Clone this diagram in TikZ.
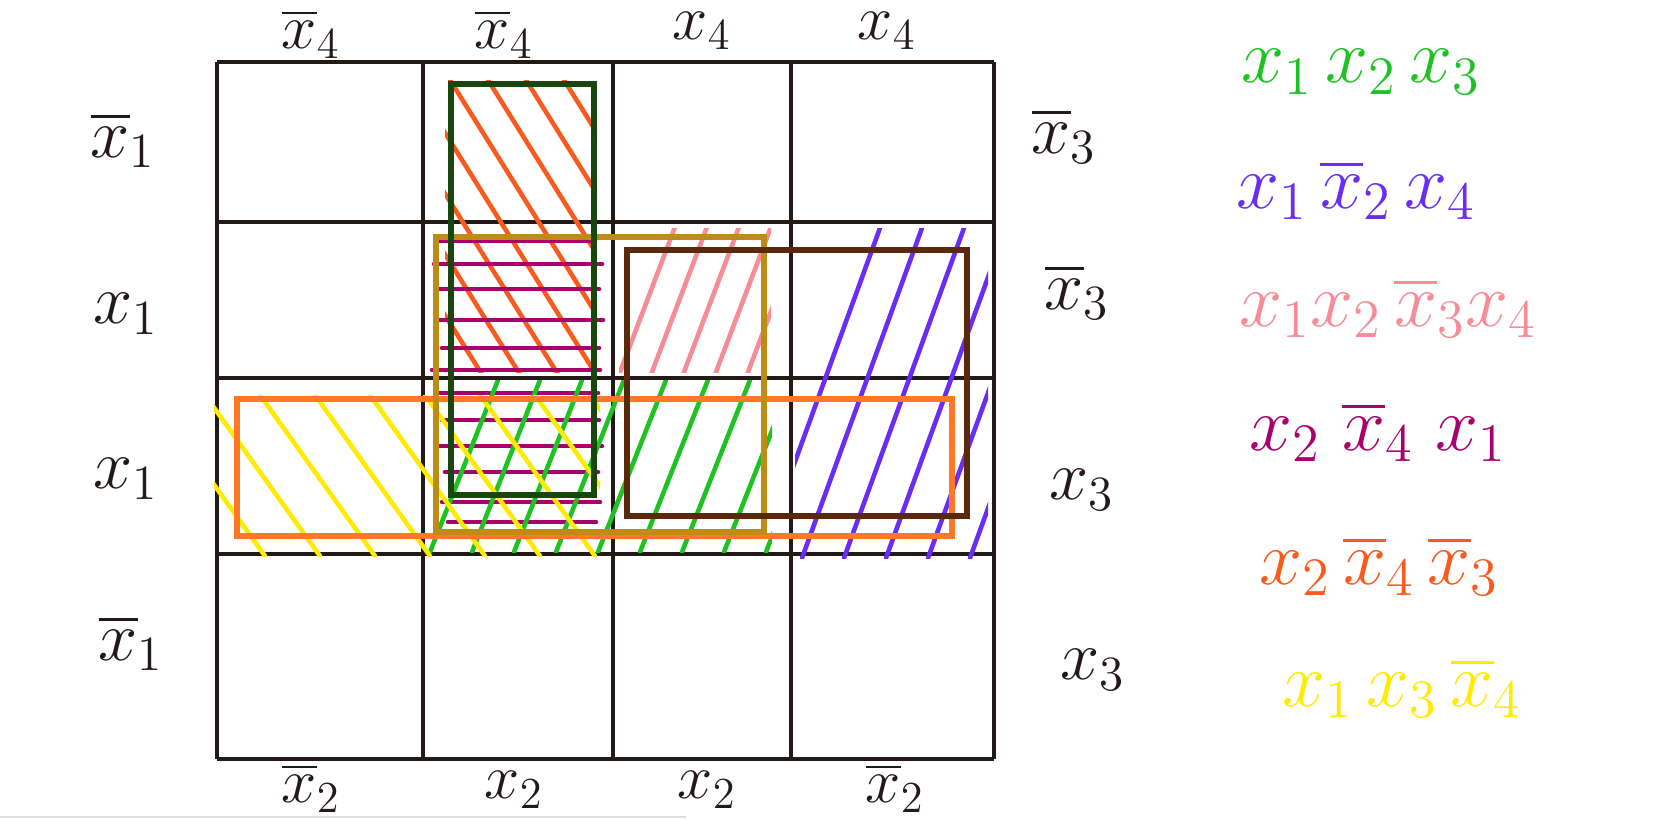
\RequirePackage{fix-cm}
\documentclass[tikz,border=0pt]{standalone}
\usepackage{tikz,xcolor}
\usepackage{amsmath}
\usetikzlibrary{positioning}

\definecolor{gridcol}{RGB}{35,25,25}
\definecolor{kgreen}{RGB}{30,195,35}
\definecolor{kblue}{RGB}{105,45,245}
\definecolor{kpink}{RGB}{245,140,150}
\definecolor{kmagenta}{RGB}{170,0,110}
\definecolor{korange}{RGB}{250,90,30}
\definecolor{kyellow}{RGB}{255,235,0}
\definecolor{rorange}{RGB}{255,120,40}
\definecolor{rdkgreen}{RGB}{25,70,15}
\definecolor{rolive}{RGB}{190,140,20}
\definecolor{rbrown}{RGB}{90,40,10}

\tikzset{
  gridline/.style={gridcol, line width=1.2pt},
  hatch/.style={line width=1.3pt, line cap=round},
  group/.style={line width=1.8pt},
  lbl/.style={text=gridcol, inner sep=0pt, font=\fontsize{20}{24}\selectfont},
  edgelbl/.style={lbl, font=\fontsize{18}{22}\selectfont},
  leg/.style={inner sep=1pt, font=\fontsize{22}{26}\selectfont}
}

\begin{document}
\begin{tikzpicture}[x=1cm, y=-1cm]

        \useasboundingbox[fill=white] (0,0) rectangle (16.8,8.19);

        % Grid
        \foreach \x in {2.17,4.23,6.13,7.91,9.94}
            \draw[gridline] (\x,0.62) -- (\x,7.59);
        \foreach \y in {0.62,2.22,3.78,5.54,7.59}
            \draw[gridline] (2.17,\y) -- (9.94,\y);

        % Hatching x2 x4' x3'
        \begin{scope}
            \clip (4.45,0.80) rectangle (5.97,3.72);
            \foreach \s in {2.6,2.98,...,6.0}
                \draw[hatch, korange] (\s,0.8) -- ++(2.0,3.2);
        \end{scope}

        % Hatching x2 x4' x1
        \foreach \y/\a/\b in {2.41/4.36/5.95, 2.64/4.34/6.02, 2.89/4.40/5.99, 3.20/4.40/6.03,
                              3.48/4.42/5.99, 3.70/4.32/6.00, 3.93/4.40/5.98, 4.20/4.42/5.99,
                              4.46/4.40/6.02, 4.72/4.45/5.98, 5.02/4.42/6.00, 5.22/4.48/5.96}
            \draw[hatch, kmagenta] (\a,\y) -- (\b,\y);

        % Hatching x1 x2 x3' x4
        \begin{scope}
            \clip (6.19,2.28) rectangle (7.71,3.72);
            \foreach \s in {6.2,6.52,...,8.0}
                \draw[hatch, kpink] (\s,3.72) -- ++(0.55,-1.45);
        \end{scope}

        % Hatching x1 x2' x4
        \begin{scope}
            \clip (7.95,2.28) rectangle (9.88,5.58);
            \foreach \s in {7.6,8.02,...,10.5}
                \draw[hatch, kblue] (\s,5.58) -- ++(1.2,-3.3);
        \end{scope}

        % Hatching x1 x2 x3
        \begin{scope}
            \clip (4.28,3.80) rectangle (7.72,5.52);
            \foreach \s in {4.3,4.72,...,7.9}
                \draw[hatch, kgreen] (\s,5.52) -- ++(0.68,-1.72);
        \end{scope}

        % Hatching x1 x3 x4'
        \begin{scope}
            \clip (2.14,3.95) rectangle (6.0,5.56);
            \foreach \s in {1.5,2.05,...,6.0}
                \draw[hatch, kyellow] (\s,3.95) -- ++(1.15,1.61);
        \end{scope}

        % Groups
        \draw[group, rorange] (2.37,3.99) rectangle (9.52,5.36);
        \draw[group, rolive] (4.36,2.37) rectangle (7.64,5.32);
        \draw[group, rbrown] (6.27,2.50) rectangle (9.67,5.16);
        \draw[group, rdkgreen] (4.51,0.84) rectangle (5.94,4.95);

        % Column labels
        \node[edgelbl] (top1) at (3.11,0.34) {$\overline{x}_4$};
        \node[edgelbl] (top2) at (5.04,0.34) {$\overline{x}_4$};
        \node[edgelbl] (top3) at (7.02,0.31) {$x_4$};
        \node[edgelbl] (top4) at (8.87,0.31) {$x_4$};
        \node[edgelbl] (bot1) at (3.11,7.88) {$\overline{x}_2$};
        \node[edgelbl] (bot2) at (5.14,7.90) {$x_2$};
        \node[edgelbl] (bot3) at (7.07,7.90) {$x_2$};
        \node[edgelbl] (bot4) at (8.95,7.88) {$\overline{x}_2$};

        % Row labels
        \node[lbl] (lft1) at (1.23,1.40) {$\overline{x}_1$};
        \node[lbl] (lft2) at (1.26,3.14) {$x_1$};
        \node[lbl] (lft3) at (1.26,4.79) {$x_1$};
        \node[lbl] (lft4) at (1.31,6.43) {$\overline{x}_1$};
        \node[lbl] (rgt1) at (10.64,1.36) {$\overline{x}_3$};
        \node[lbl] (rgt2) at (10.77,2.92) {$\overline{x}_3$};
        \node[lbl] (rgt3) at (10.82,4.90) {$x_3$};
        \node[lbl] (rgt4) at (10.93,6.70) {$x_3$};

        % Terms
        \node[leg, text=kgreen] (term1) at (13.61,0.72) {$x_1\,x_2\,x_3$};
        \node[leg, text=kblue] (term2) at (13.56,1.90) {$x_1\,\overline{x}_2\,x_4$};
        \node[leg, text=kpink] (term3) at (13.88,3.08) {$x_1x_2\,\overline{x}_3x_4$};
        \node[leg, text=kmagenta] (term4) at (13.78,4.32) {$x_2\;\overline{x}_4\;x_1$};
        \node[leg, text=korange] (term5) at (13.79,5.66) {$x_2\,\overline{x}_4\,\overline{x}_3$};
        \node[leg, text=kyellow] (term6) at (14.02,6.88) {$x_1\,x_3\,\overline{x}_4$};

        \draw[gray!25, line width=0.6pt] (0,8.17) -- (6.86,8.17);

\end{tikzpicture}
\end{document}
